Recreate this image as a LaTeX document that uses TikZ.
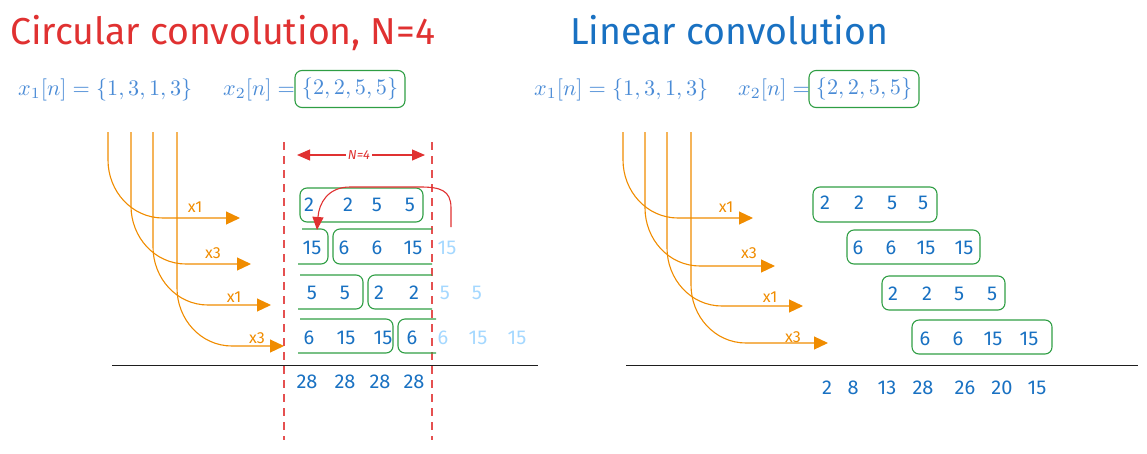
\documentclass[tikz,border=0pt]{standalone}
\usepackage{fontspec}
\newfontfamily\hand{Fira Sans}
\usetikzlibrary{arrows.meta}
\definecolor{ored}{HTML}{E03131}
\definecolor{oblue}{HTML}{1971C2}
\definecolor{lblue}{HTML}{A5D8FF}
\definecolor{ogreen}{HTML}{2F9E44}
\definecolor{oorange}{HTML}{F08C00}
\definecolor{fblue}{HTML}{4A8BD6}
\definecolor{ink}{HTML}{1E1E1E}
\newcommand{\fm}[1]{\scalebox{2.22}{$#1$}}
\begin{document}
\begin{tikzpicture}[x=1pt,y=-1pt,
  num/.style={font=\hand\fontsize{20}{22}\selectfont, text=oblue, inner sep=0pt},
  faint/.style={num, text=lblue},
  gbox/.style={draw=ogreen, line width=1.1pt, rounded corners=7pt},
  oarrow/.style={draw=oorange, line width=1.1pt, -{Triangle[length=14pt,width=13pt]}},
  olabel/.style={font=\hand\fontsize{16}{18}\selectfont, text=oorange, inner sep=0pt},
  formula/.style={text=fblue, inner sep=0pt},
  redash/.style={draw=ored!85, line width=1.3pt, dash pattern=on 8pt off 6pt},
  title/.style={font=\hand\fontsize{37.5}{42}\selectfont, inner sep=0pt}]
\useasboundingbox (0,0) rectangle (1147,453);

% titles
\node[title, text=ored, anchor=base west] (t1) at (10,44) {Circular convolution, N=4};
\node[title, text=oblue, anchor=base west] (t2) at (570,44) {Linear convolution};

% formulas left
\node[formula, anchor=west] (f1) at (18,90) {\fm{x_1[n] = \{1,3,1,3\}}};
\node[formula, anchor=west] (f2) at (223,90) {\fm{x_2[n] =}};
\node[formula, gbox, minimum width=110pt, minimum height=37pt] (f3) at (350,89) {\fm{\{2,2,5,5\}}};
% formulas right
\node[formula, anchor=west] (g1) at (534,90) {\fm{x_1[n] = \{1,3,1,3\}}};
\node[formula, anchor=west] (g2) at (738,90) {\fm{x_2[n] =}};
\node[formula, gbox, minimum width=110pt, minimum height=37pt] (g3) at (864,89) {\fm{\{2,2,5,5\}}};

% orange curves, left
\foreach \x/\h/\t/\i in {108/218/240/1, 131/264/251/2, 153/305/271/3, 177/346/284/4}{
  \coordinate (ls\i) at (\x,132);
  \coordinate (le\i) at (\t,\h);
  \draw[oarrow] (ls\i) -- (\x,\h-58) to[out=-90,in=180] (\x+55,\h) -- (le\i);
}
\node[olabel] (lx1) at (195,207) {x1};
\node[olabel] (lx2) at (213,253) {x3};
\node[olabel] (lx3) at (234,297) {x1};
\node[olabel] (lx4) at (257,338) {x3};

% orange curves, right
\foreach \x/\h/\t/\i in {623/218/753/1, 645/266/775/2, 667/306/803/3, 691/343/828/4}{
  \coordinate (rs\i) at (\x,132);
  \coordinate (re\i) at (\t,\h);
  \draw[oarrow] (rs\i) -- (\x,\h-58) to[out=-90,in=180] (\x+55,\h) -- (re\i);
}
\node[olabel] (rx1) at (726,207) {x1};
\node[olabel] (rx2) at (749,253) {x3};
\node[olabel] (rx3) at (770,297) {x1};
\node[olabel] (rx4) at (793,337) {x3};

% dashed red lines
\coordinate (d1t) at (284,142); \coordinate (d1b) at (284,440);
\coordinate (d2t) at (432,142); \coordinate (d2b) at (432,440);
\draw[redash] (d1t) -- (d1b);
\draw[redash] (d2t) -- (d2b);

% N=4 arrow
\coordinate (na) at (297,155); \coordinate (nb) at (425,155);
\draw[ored, line width=1.1pt, {Triangle[length=13pt,width=11pt]}-{Triangle[length=13pt,width=11pt]}] (na) -- (nb);
\node[fill=white, text=ored, font=\hand\itshape\fontsize{13}{15}\selectfont, inner sep=1.5pt] (nl) at (359,155) {N=4};

% left boxes
\draw[gbox] (300,188) rectangle (423,222);
\draw[gbox] (302,229) -- (328,229) -- (328,264) -- (298,264);
\draw[gbox] (432,229) -- (333,229) -- (333,264) -- (432,264);
\draw[gbox] (300,275) -- (363,275) -- (363,309) -- (298,309);
\draw[gbox] (432,275) -- (368,275) -- (368,309) -- (432,309);
\draw[gbox] (300,319) -- (393,319) -- (393,353) -- (298,353);
\draw[gbox] (436,319) -- (398,319) -- (398,353) -- (436,353);

% left numbers
\foreach \x/\t [count=\i] in {309/2,348/2,377/5,410/5} \node[num] (a\i) at (\x,205) {\t};
\foreach \x/\t [count=\i] in {312/15,344/6,377/6,413/15} \node[num] (b\i) at (\x,248) {\t};
\node[faint] (b5) at (447,248) {15};
\foreach \x/\t [count=\i] in {312/5,345/5,379/2,414/2} \node[num] (c\i) at (\x,293) {\t};
\node[faint] (c5) at (445,293) {5};
\node[faint] (c6) at (477,293) {5};
\foreach \x/\t [count=\i] in {309/6,346/15,383/15,412/6} \node[num] (e\i) at (\x,338) {\t};
\node[faint] (e5) at (443,338) {6};
\node[faint] (e6) at (478,338) {15};
\node[faint] (e7) at (517,338) {15};

% red wrap arrow
\coordinate (ws) at (451,227);
\coordinate (we) at (317,230);
\draw[ored, line width=1.1pt, -{Triangle[length=13pt,width=11pt]}] (ws) -- (451,208) .. controls (451,190) and (440,187) .. (420,187) -- (350,187) .. controls (328,187) and (319,203) .. (we);

% baselines
\coordinate (bl1) at (112,365); \coordinate (bl2) at (538,365);
\coordinate (br1) at (626,365); \coordinate (br2) at (1138,365);
\draw[ink, line width=1pt] (bl1) -- (bl2);
\draw[ink, line width=1pt] (br1) -- (br2);

% left results
\foreach \x [count=\i] in {307,345,380,414} \node[num] (s\i) at (\x,382) {28};

% right boxes
\draw[gbox] (813,187) rectangle (937,222);
\draw[gbox] (847,230) rectangle (980,264);
\draw[gbox] (882,276) rectangle (1005,310);
\draw[gbox] (912,320) rectangle (1052,354);
\foreach \x/\t [count=\i] in {825/2,859/2,892/5,923/5} \node[num] (p\i) at (\x,203) {\t};
\foreach \x/\t [count=\i] in {858/6,891/6,926/15,964/15} \node[num] (q\i) at (\x,248) {\t};
\foreach \x/\t [count=\i] in {893/2,927/2,959/5,992/5} \node[num] (r\i) at (\x,294) {\t};
\foreach \x/\t [count=\i] in {925/6,958/6,993/15,1029/15} \node[num] (u\i) at (\x,339) {\t};

% right results
\foreach \x/\t [count=\i] in {827/2,853/8,887/13,923/28,965/26,1002/20,1037/15} \node[num] (v\i) at (\x,388) {\t};
\end{tikzpicture}
\end{document}
